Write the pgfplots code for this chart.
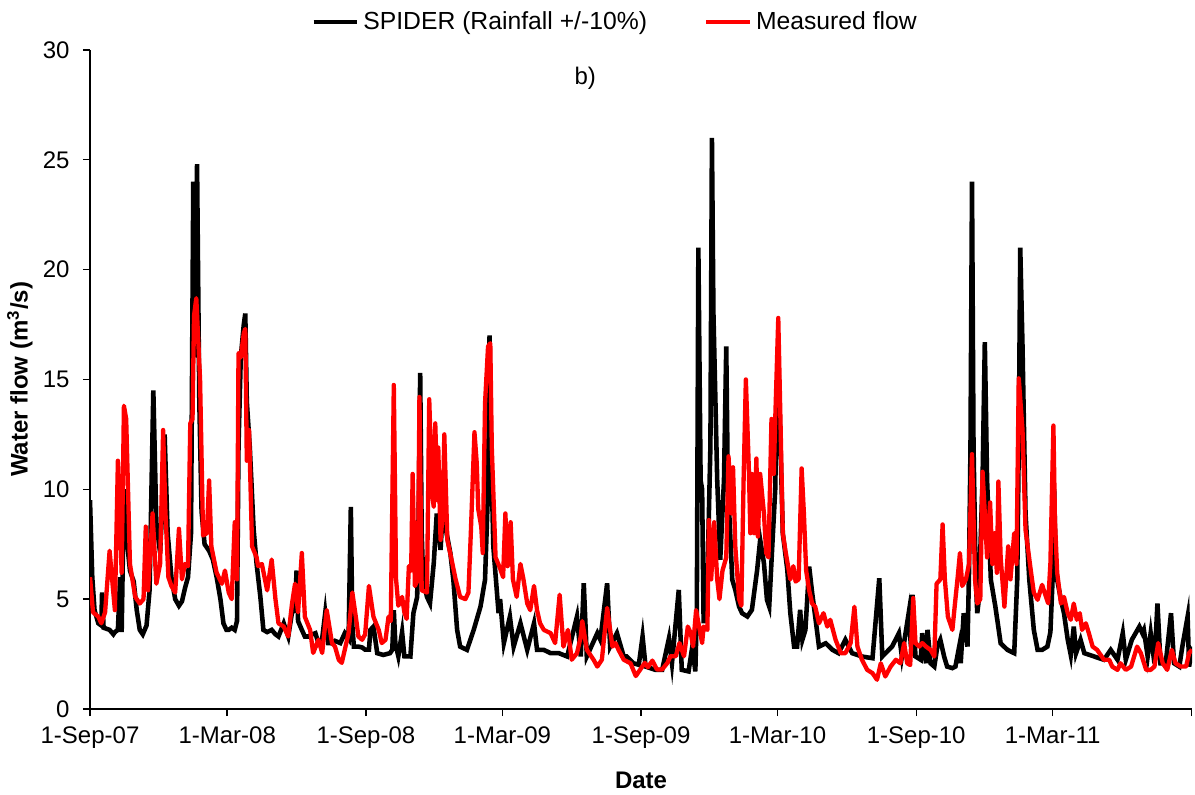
\documentclass[border=0pt]{standalone}
\usepackage{fontspec}
\setmainfont{Liberation Sans}
\usepackage{pgfplots}
\pgfplotsset{compat=1.18}
\usepackage{pgfplotstable}

\pgfplotstableread{
d v
0 9.5
3 6.0
6 4.5
11 3.9
15 3.8
16 5.3
18 3.7
26 3.6
31 3.4
33 3.5
37 3.6
40 6.0
42 3.5
45 10.0
48 8.0
53 6.3
58 5.8
62 4.5
66 3.6
70 3.4
75 3.8
79 5.4
84 14.5
88 8.5
93 7.1
97 10.0
99 12.5
103 8.0
108 6.0
113 5.0
118 4.7
122 4.9
126 5.5
130 6.0
134 8.0
137 24.0
139 16.0
142 24.8
145 14.0
148 9.0
152 7.5
158 7.2
163 6.8
168 6.0
173 5.0
177 3.9
181 3.6
184 3.6
188 3.7
192 3.6
195 4.0
197 12.0
200 16.0
204 17.5
206 18.0
208 14.0
212 11.9
217 8.2
221 6.6
226 5.1
230 3.6
235 3.5
241 3.6
246 3.4
250 3.3
257 3.9
263 3.3
268 4.4
272 4.5
274 6.3
276 4.0
281 3.6
285 3.3
290 3.3
295 3.4
299 3.45
303 3.0
308 3.2
312 4.36
316 3.0
321 2.99
325 3.1
332 3.0
338 3.45
343 3.2
346 9.2
348 3.8
350 2.84
356 2.84
361 2.8
365 2.7
370 2.7
372 3.6
376 3.75
381 2.54
389 2.46
398 2.54
401 2.7
403 4.5
405 3.0
409 2.4
414 3.5
417 2.4
425 2.39
429 4.36
434 5.1
436 9.0
438 15.3
440 8.0
442 5.88
447 5.1
451 4.81
456 6.64
460 8.9
465 7.24
469 9.67
473 8.0
478 7.1
482 5.88
487 3.6
491 2.84
500 2.69
509 3.6
518 4.66
524 5.88
528 10.0
530 17.0
532 12.0
535 7.4
542 4.36
544 5.0
549 3.0
557 4.2
562 2.84
571 3.9
580 2.69
589 3.9
593 2.69
602 2.69
611 2.54
622 2.54
633 2.39
646 4.21
651 2.39
655 5.72
659 2.39
673 3.45
677 3.15
686 5.72
690 2.84
699 3.45
708 2.39
712 2.39
721 2.08
728 2.01
733 3.3
737 1.93
750 1.78
759 1.78
768 3.22
772 2.08
781 5.42
785 1.78
794 1.71
799 2.84
803 1.71
805 4.51
807 21.0
810 10.4
812 10.0
814 3.9
819 5.88
823 12.0
825 26.0
827 18.0
832 10.43
836 6.79
841 10.43
844 16.5
846 10.4
852 5.88
856 5.42
861 4.66
865 4.36
872 4.21
878 4.51
885 6.33
889 7.7
894 6.64
898 4.97
901 4.66
905 7.39
909 10.0
911 14.4
913 16.0
916 11.95
919 8.0
925 6.33
929 4.36
934 2.84
938 2.84
942 4.51
945 3.15
949 3.6
954 6.48
958 5.27
962 4.21
967 2.84
976 2.99
985 2.69
993 2.54
1002 3.15
1011 2.54
1024 2.39
1038 2.31
1047 5.95
1051 2.39
1064 2.84
1073 3.45
1077 2.39
1086 4.36
1089 2.84
1091 5.2
1095 2.39
1102 2.24
1104 3.45
1109 2.08
1111 3.6
1115 2.08
1120 1.93
1124 2.84
1128 3.15
1133 2.39
1137 1.93
1144 1.86
1148 1.93
1153 2.84
1155 2.08
1159 4.36
1164 2.84
1166 6.18
1168 12.0
1170 24.0
1172 12.0
1175 5.88
1177 4.36
1179 4.97
1184 10.43
1187 16.7
1190 10.43
1195 5.88
1201 4.66
1208 2.99
1217 2.69
1226 2.54
1230 5.88
1232 12.0
1234 21.0
1237 16.5
1241 8.9
1246 5.88
1252 3.6
1257 2.69
1263 2.69
1270 2.84
1274 3.5
1277 6.0
1279 10.0
1281 6.6
1283 5.88
1288 4.97
1292 4.36
1297 3.15
1301 2.46
1305 3.75
1308 2.54
1314 3.15
1319 2.54
1332 2.39
1345 2.24
1354 2.69
1363 2.24
1370 3.45
1374 2.24
1382 3.15
1387 3.45
1392 3.75
1396 3.45
1398 3.6
1403 2.39
1407 3.45
1412 2.08
1416 4.8
1420 2.08
1427 2.08
1434 4.36
1438 2.08
1445 1.93
1449 2.84
1456 4.2
1458 1.93
1462 2.84
}\spider

\pgfplotstableread{
d v
0 6.0
4 4.4
11 4.2
15 3.9
20 4.4
26 7.2
33 4.5
37 11.3
42 6.2
45 13.8
48 13.2
53 6.6
60 5.1
66 4.8
71 5.0
74 8.3
77 5.4
83 8.9
88 5.7
93 6.6
97 12.7
100 9.0
104 6.0
108 5.6
113 5.3
118 8.2
122 5.9
126 6.6
130 6.5
133 13.0
136 13.2
138 17.9
141 18.7
146 15.0
150 7.9
155 8.0
158 10.4
161 7.4
168 6.2
175 5.7
179 6.3
184 5.3
188 5.0
192 8.5
195 5.9
197 16.2
200 16.0
204 17.1
206 17.3
208 11.3
211 12.7
215 7.4
221 6.9
223 6.5
228 6.6
235 5.4
241 6.8
246 5.0
250 3.9
257 3.75
263 3.3
268 4.8
272 5.7
276 4.4
281 7.1
285 4.2
292 3.6
296 2.55
303 3.15
308 2.55
314 4.5
321 3.0
325 2.84
330 2.24
334 2.1
338 2.7
343 3.45
348 5.3
353 4.1
356 3.3
361 3.15
365 3.4
370 5.6
376 4.2
383 3.6
387 3.0
392 3.15
396 4.2
399 4.0
403 14.75
406 5.9
409 4.7
414 5.1
417 4.4
420 4.1
423 6.5
426 6.3
428 10.7
431 5.6
435 5.9
437 14.2
440 5.4
447 5.3
450 14.1
454 9.7
456 9.2
458 13.0
461 9.5
462 11.9
465 7.7
468 8.9
470 12.5
474 7.7
479 6.9
485 5.9
491 5.1
498 5.0
502 5.3
505 7.85
510 12.6
513 11.2
515 9.1
519 8.3
521 7.1
524 13.9
528 16.5
531 16.65
533 11.9
538 6.9
544 6.4
548 6.0
551 8.9
554 6.5
558 8.5
561 5.9
566 5.1
571 6.6
575 5.9
580 4.8
584 4.5
589 5.6
593 4.5
597 3.9
602 3.6
611 3.45
617 3.0
623 5.2
628 2.84
634 3.6
639 2.24
646 2.54
651 3.3
653 4.0
659 2.7
668 2.24
673 1.93
679 2.24
686 4.6
693 2.84
697 3.0
701 2.7
708 2.24
717 2.08
724 1.5
730 1.8
736 2.1
740 1.9
746 2.2
752 1.8
759 1.8
766 2.1
770 2.4
777 2.4
782 3.0
788 2.4
793 3.75
797 3.45
800 2.84
804 4.5
808 3.75
812 3.0
814 3.75
819 3.6
821 8.6
824 5.9
828 8.5
832 5.9
835 5.0
839 6.3
844 6.9
847 11.5
851 8.9
853 11.0
856 7.4
861 5.0
864 4.7
867 10.4
870 15.0
874 10.9
876 8.0
878 10.7
881 8.0
884 11.4
886 7.85
889 10.7
894 8.9
897 7.1
900 6.9
904 13.2
907 10.7
909 13.2
913 17.8
916 13.0
919 8.0
923 7.1
929 5.9
933 6.5
936 5.8
940 5.9
944 10.95
947 8.9
950 6.3
954 5.4
958 4.8
962 4.66
967 3.9
973 4.36
978 3.75
982 4.06
989 3.15
996 2.54
1002 2.54
1009 3.0
1014 4.65
1018 2.84
1024 2.24
1031 1.78
1038 1.63
1044 1.33
1049 2.08
1055 1.48
1062 1.93
1069 2.24
1075 2.08
1080 3.0
1084 2.08
1088 2.0
1092 5.05
1095 3.0
1100 2.84
1104 3.0
1109 2.84
1115 2.69
1120 2.39
1123 5.7
1128 5.9
1131 8.4
1134 5.9
1138 4.2
1144 3.6
1147 4.66
1151 6.0
1154 7.1
1157 5.6
1162 5.9
1166 6.6
1170 11.6
1174 5.9
1177 4.8
1181 5.0
1184 10.8
1187 8.9
1190 6.9
1194 9.4
1197 6.6
1200 8.0
1203 6.2
1205 10.35
1208 6.9
1213 4.66
1218 7.4
1221 5.9
1226 8.0
1229 6.6
1232 15.05
1237 12.7
1241 8.15
1248 6.3
1252 5.3
1257 4.97
1263 5.65
1268 5.12
1271 4.81
1274 6.64
1278 12.9
1280 8.6
1283 6.2
1288 4.8
1292 5.1
1297 4.36
1301 4.06
1305 4.8
1309 4.06
1313 4.36
1316 3.6
1321 3.9
1325 3.45
1330 2.84
1336 2.69
1345 2.24
1352 2.24
1356 1.93
1363 1.78
1367 2.08
1374 1.78
1381 1.93
1389 2.84
1394 2.54
1401 1.78
1407 1.78
1412 1.93
1417 3.0
1423 2.08
1429 1.78
1435 2.69
1440 2.08
1447 1.93
1454 1.93
1458 2.54
1462 2.7
}\measured

\begin{document}
\begin{tikzpicture}
\useasboundingbox (-37.5pt,-35.8pt) rectangle (460.4pt,295.4pt);
\begin{axis}[
  at={(0,0)}, anchor=south west,
  scale only axis,
  width=459.2pt, height=274.6pt,
  xmin=0, xmax=1462,
  ymin=0, ymax=30,
  axis lines*=left,
  axis line style={line width=0.6pt},
  tick style={line width=0.6pt, black},
  major tick length=3pt,
  tick align=outside,
  xtick={0,182,366,547,731,912,1096,1277,1461},
  xticklabels={1-Sep-07,1-Mar-08,1-Sep-08,1-Mar-09,1-Sep-09,1-Mar-10,1-Sep-10,1-Mar-11,},
  ytick={0,5,10,15,20,25,30},
  /pgf/number format/assume math mode=true,
  ticklabel style={font=\fontsize{10}{12}\selectfont},
  xticklabel style={yshift=-1pt},
  yticklabel style={xshift=-2pt},
  xlabel={Date},
  ylabel={Water flow (m\textsuperscript{3}/s)},
  label style={font=\fontsize{10}{12}\selectfont\bfseries},
  xlabel style={at={(axis description cs:0.5,-0.108)}, anchor=center},
  ylabel style={at={(axis description cs:-0.0636,0.5)}, anchor=center},
  legend style={at={(axis description cs:0.478,1.0424)}, anchor=center,
    draw=none, fill=none, font=\fontsize{10.3}{12}\selectfont,
    /tikz/every even column/.append style={column sep=22pt}},
  legend columns=2,
  legend image code/.code={\draw[#1, line width=1.4pt] (0pt,0pt) -- (18pt,0pt);},
]
\addplot[black, line width=1.9pt] table[x=d, y=v] {\spider};
\addlegendentry{SPIDER (Rainfall +/-10\%)}
\addplot[red, line width=1.8pt, line join=round] table[x=d, y=v] {\measured};
\addlegendentry{Measured flow}
\node[font=\fontsize{10}{12}\selectfont] at (axis cs:657,28.7) {b)};
\end{axis}
\end{tikzpicture}
\end{document}
